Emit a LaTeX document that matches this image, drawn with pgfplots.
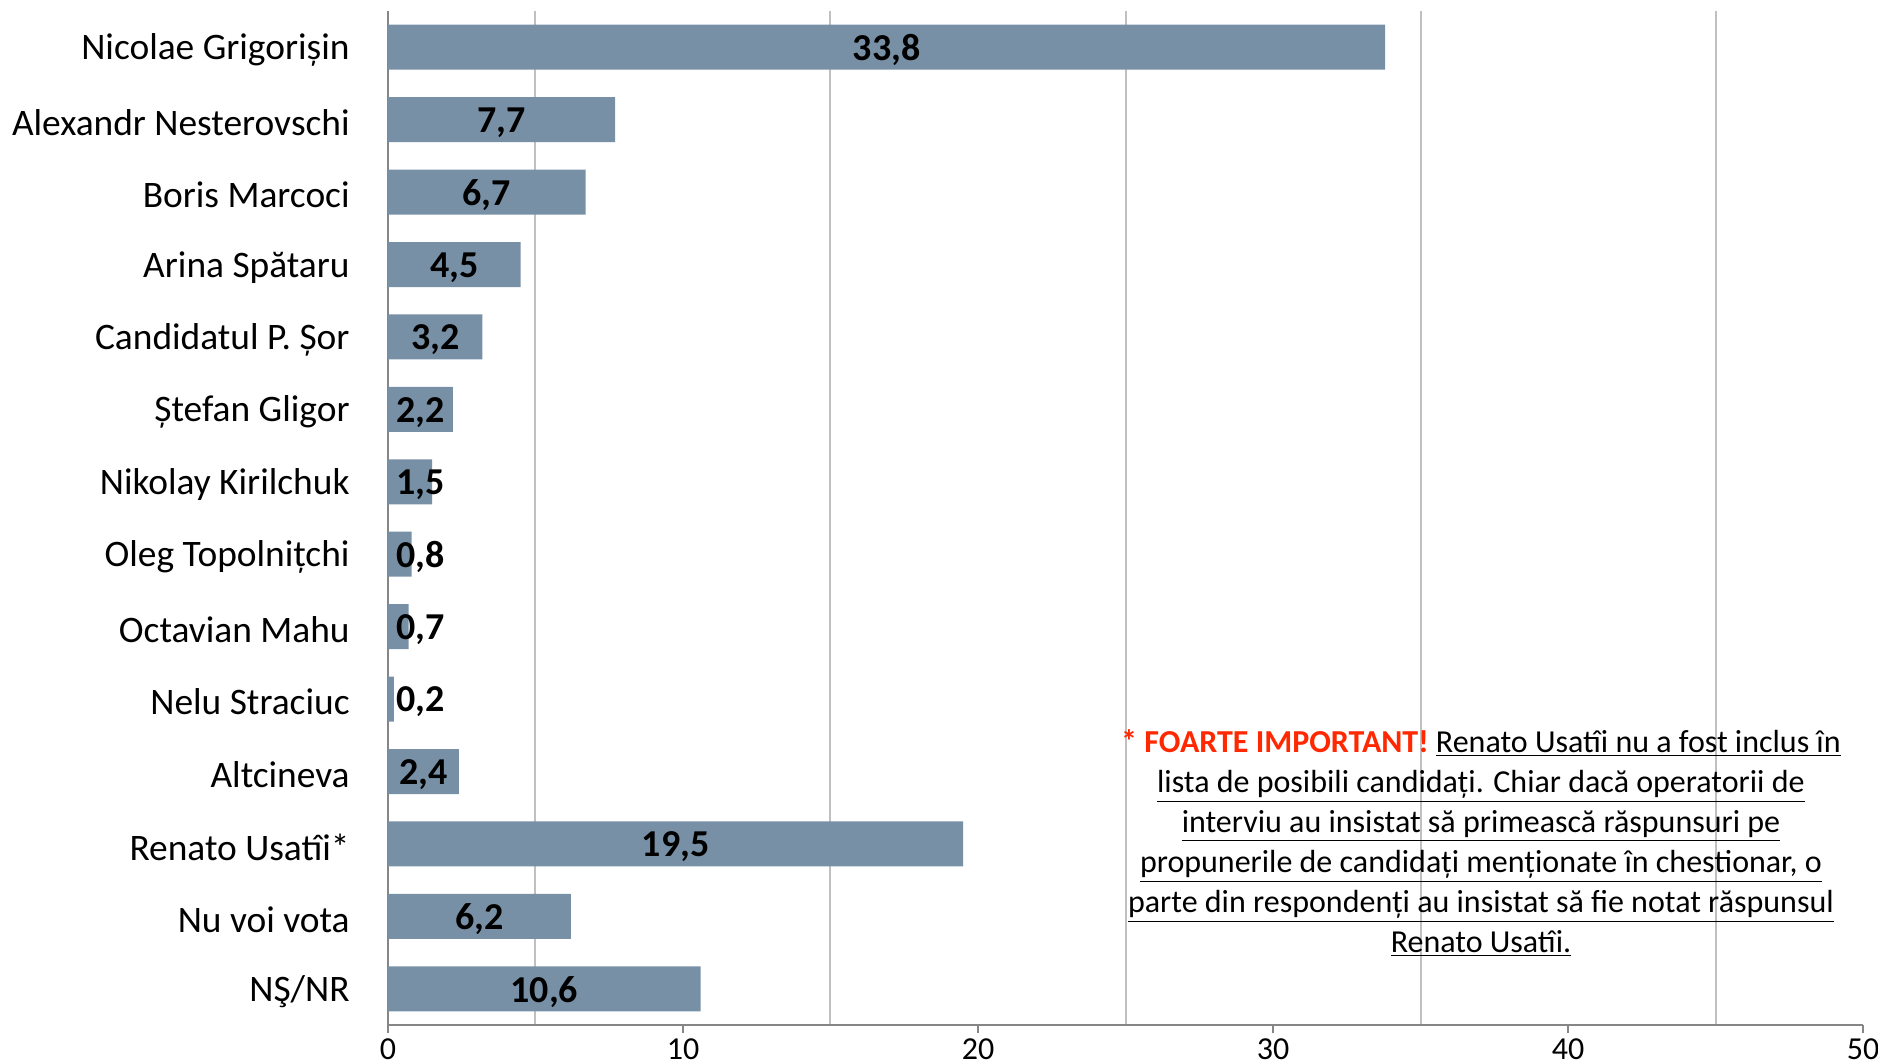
\documentclass[border=0pt]{standalone}
\usepackage{pgfplots}
\pgfplotsset{compat=1.18}
\usepackage{pgfplotstable}
\usepackage{fontspec}
\setmainfont{Carlito}

\definecolor{barcol}{RGB}{120,144,166}
\definecolor{gridgray}{RGB}{192,192,192}
\definecolor{axisgray}{RGB}{134,134,134}
\definecolor{alertred}{RGB}{255,40,0}

% idx = row from the top, val = percent, lx = where the label sits
\pgfplotstableread{
idx val lx
0 33.8 16.9
1 7.7 3.85
2 6.7 3.35
3 4.5 2.25
4 3.2 1.6
5 2.2 1.1
6 1.5 1.1
7 0.8 1.1
8 0.7 1.1
9 0.2 1.1
10 2.4 1.2
11 19.5 9.75
12 6.2 3.1
13 10.6 5.3
}\votes

\begin{document}
\begin{tikzpicture}
\path[use as bounding box] (-194pt,-19.5pt) rectangle (745pt,512.5pt);
\begin{axis}[
at={(0,0)}, anchor=south west,
scale only axis,
width=737.5pt, height=507pt,
xmin=0, xmax=50,
ymin=-0.5, ymax=13.5,
y dir=reverse,
axis x line*=bottom,
axis y line*=left,
axis line style={draw=axisgray, line width=1pt, -},
xtick={0,10,20,30,40,50},
minor xtick={5,15,25,35,45},
xminorgrids,
minor grid style={draw=gridgray, line width=1pt},
minor tick length=0pt,
major tick length=4pt,
tick align=outside,
xtick style={draw=axisgray, line width=1pt},
ytick={0,...,13},
ytick style={draw=none},
yticklabels={Nicolae Grigorișin, Alexandr Nesterovschi, Boris Marcoci, Arina Spătaru, Candidatul P. Șor, Ștefan Gligor, Nikolay Kirilchuk, Oleg Topolnițchi, Octavian Mahu, Nelu Straciuc, Altcineva, Renato Usatîi*, Nu voi vota, NŞ/NR},
yticklabel style={anchor=east, inner sep=0pt, xshift=-15pt, yshift=-1.5pt, font=\fontsize{18.7}{18.7}\selectfont},
xticklabel style={inner sep=0pt, yshift=-2.5pt, font=\fontsize{16}{16}\selectfont},
/pgf/number format/assume math mode=true,
clip=false,
]
\addplot[xbar, fill=barcol, draw=none, bar width=22.5pt] table[x=val, y=idx] {\votes};
\addplot[draw=none, mark=none, point meta=explicit,
  nodes near coords={\pgfmathprintnumber[use comma, fixed, fixed zerofill, precision=1, assume math mode=true]{\pgfplotspointmeta}},
  nodes near coords align={center},
  every node near coord/.append style={anchor=center, inner sep=0pt, yshift=-1.5pt, font=\bfseries\fontsize{19}{19}\selectfont}]
  table[x=lx, y=idx, meta=val] {\votes};
\node[align=center, font=\fontsize{16}{20}\selectfont] at (axis cs:37.05,10.99)
{\textcolor{alertred}{\bfseries * FOARTE IMPORTANT!} \underline{Renato Usatîi nu a fost inclus în}\\
\underline{lista de posibili candidați. Chiar dacă operatorii de}\\
\underline{interviu au insistat să primească răspunsuri pe}\\
\underline{propunerile de candidați menționate în chestionar, o}\\
\underline{parte din respondenți au insistat să fie notat răspunsul}\\
\underline{Renato Usatîi.}};
\end{axis}
\end{tikzpicture}
\end{document}
